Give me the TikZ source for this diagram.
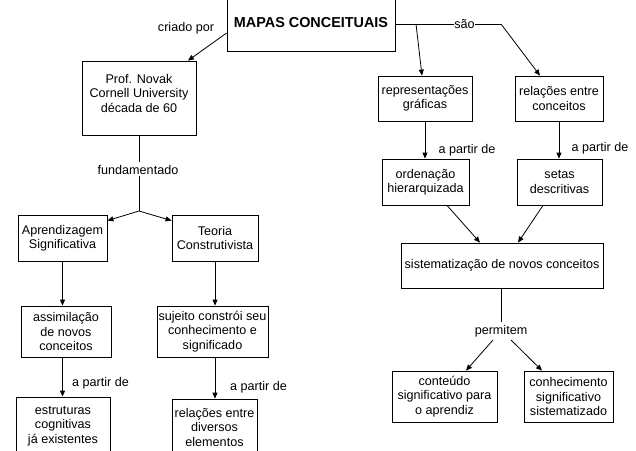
\documentclass[tikz,border=0pt]{standalone}
\usepackage{fontspec}
\setmainfont{Liberation Sans}
\usetikzlibrary{arrows.meta}
\begin{document}
\begin{tikzpicture}[x=1pt,y=-1pt,
  every node/.style={font=\fontsize{12.6}{14.5}\selectfont},
  box/.style={draw=black, line width=0.8pt, fill=white, align=center, inner sep=0pt},
  txt/.style={align=center, inner sep=0pt},
  lbl/.style={inner sep=0.5pt, fill=white},
  link/.style={draw=black, line width=0.8pt},
  arr/.style={link, -{Triangle[length=6pt,width=5pt]}}]
\clip (0,0) rectangle (636,450);
\fill[white] (0,0) rectangle (636,450);

% concepts
\node[box, minimum width=168, minimum height=56,
      font=\fontsize{14.4}{17}\selectfont\bfseries] (mapas) at (311,23) {MAPAS CONCEITUAIS};
\node[box, minimum width=114, minimum height=74] (novak) at (139,98) {};
\node[txt] (novakt) at (139,93) {Prof. Novak\\Cornell University\\década de 60};
\node[box, minimum width=94, minimum height=45] (rep) at (425,98.5) {representações\\gráficas};
\node[box, minimum width=88, minimum height=45] (rel) at (559,98.5) {relações entre\\conceitos};
\node[box, minimum width=87, minimum height=46] (ord) at (425.5,182) {ordenação\\hierarquizada};
\node[box, minimum width=85, minimum height=46] (setas) at (559.5,182) {setas\\descritivas};
\node[box, minimum width=202, minimum height=45] (sist) at (502,265.5) {sistematização de novos conceitos};
\node[box, minimum width=105, minimum height=51] (cont) at (444.5,396.5) {conteúdo\\significativo para\\o aprendiz};
\node[box, minimum width=89, minimum height=51] (conh) at (568.5,396.5) {conhecimento\\significativo\\sistematizado};
\node[box, minimum width=89, minimum height=46] (aprend) at (62.5,238) {Aprendizagem\\Significativa};
\node[box, minimum width=86, minimum height=46] (teoria) at (215,238) {Teoria\\Construtivista};
\node[box, minimum width=90, minimum height=51] (assim) at (66,331.5) {assimilação\\de novos\\conceitos};
\node[box, minimum width=111, minimum height=51] (sujeito) at (212.5,331.5) {sujeito constrói seu\\conhecimento e\\significado};
\node[box, minimum width=94, minimum height=58] (estr) at (63,426) {estruturas\\cognitivas\\já existentes};
\node[box, minimum width=85, minimum height=56] (reldiv) at (214.5,427) {relações entre\\diversos\\elementos};

% junction points
\coordinate (saoL) at (416,24);
\coordinate (saoR) at (501,24);
\coordinate (fundA) at (139,162);
\coordinate (fundB) at (139,176);
\coordinate (fork) at (139,211);
\coordinate (permA) at (501,322);
\coordinate (permL) at (493,340);
\coordinate (permR) at (511,340);

% criado por
\draw[arr] ([yshift=-10pt]mapas.west) -- ([xshift=49pt]novak.north);
\node[txt] (criado) at (186,28) {criado por};

% são
\draw[link] (mapas.east |- saoR) -- (saoR);
\node[lbl] (sao) at (464.5,24) {são};
\draw[arr] (saoL) -- ([xshift=-3pt]rep.north);
\draw[arr] (saoR) -- ([xshift=-19pt]rel.north);

% a partir de (right branch)
\draw[arr] (rep.south) -- (rep.south |- ord.north);
\node[txt] (ap1) at (467,150) {a partir de};
\draw[arr] (rel.south) -- (rel.south |- setas.north);
\node[txt] (ap2) at (600,148) {a partir de};

\draw[arr] ([xshift=21.5pt]ord.south) -- ([xshift=-22pt]sist.north);
\draw[arr] ([xshift=-16.5pt]setas.south) -- ([xshift=16pt]sist.north);

% permitem
\draw[link] (sist.south -| permA) -- (permA);
\node[txt] (perm) at (501,331) {permitem};
\draw[arr] (permL) -- ([xshift=21.5pt]cont.north);
\draw[arr] (permR) -- ([xshift=-26.5pt]conh.north);

% fundamentado
\draw[link] (novak.south) -- (fundA);
\node[txt] (fund) at (138,170) {fundamentado};
\draw[link] (fundB) -- (fork);
\draw[arr] (fork) -- ([yshift=-6pt]aprend.north east);
\draw[arr] (fork) -- ([yshift=-6pt]teoria.north west);

% left column
\draw[arr] (aprend.south) -- (aprend.south |- assim.north);
\draw[arr] (teoria.south) -- (teoria.south |- sujeito.north);
\draw[arr] (aprend.south |- assim.south) -- (aprend.south |- estr.north);
\node[txt] (ap3) at (100.5,383) {a partir de};
\draw[arr] (teoria.south |- sujeito.south) -- (teoria.south |- reldiv.north);
\node[txt] (ap4) at (258.5,387) {a partir de};
\end{tikzpicture}
\end{document}
